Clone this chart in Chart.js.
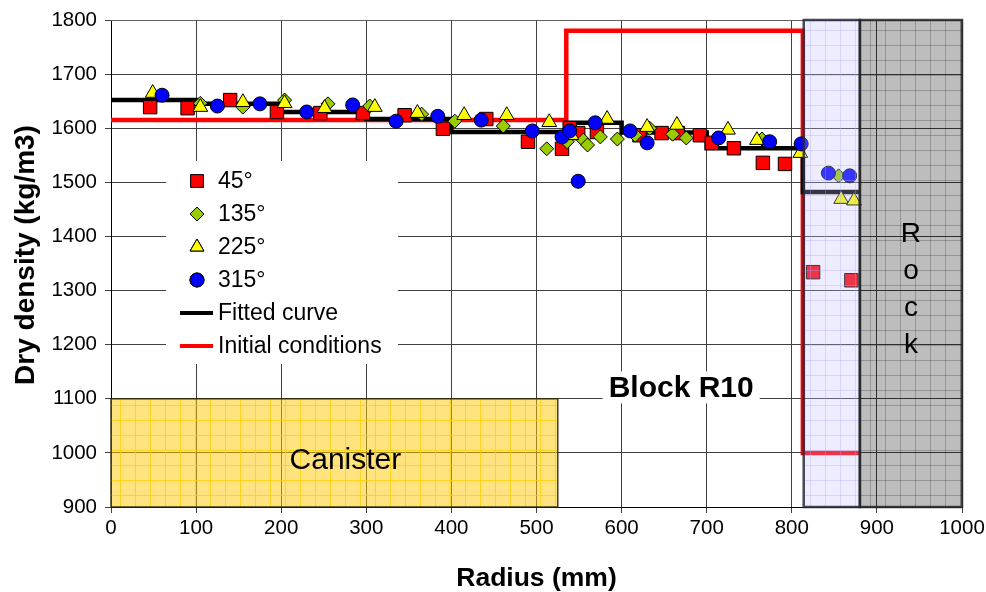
<!DOCTYPE html>
<html>
<head>
<meta charset="utf-8">
<script src="https://cdn.jsdelivr.net/npm/chart.js@4.4.0/dist/chart.umd.min.js"></script>
<style>
    html, body { margin: 0; padding: 0; background: #fff; }
    #wrap { width: 986px; height: 592px; }
</style>
</head>
<body>
<div id="wrap"><canvas id="densityChart" width="986" height="592"></canvas></div>
<script>
// Axis ticks
const xTicks = [0, 100, 200, 300, 400, 500, 600, 700, 800, 900, 1000];
const yTicks = [900, 1000, 1100, 1200, 1300, 1400, 1500, 1600, 1700, 1800];

// Measured dry density per sampling direction
const radius45 = [46, 90, 140, 195, 246, 296, 345, 390, 441, 490, 530, 539, 549, 571, 621, 647, 666, 692, 706, 732, 766, 792, 825, 870];
const density45 = [1639, 1637, 1652, 1630, 1628, 1628, 1624, 1599, 1617, 1575, 1562, 1600, 1591, 1593, 1587, 1591, 1591, 1587, 1573, 1563, 1536, 1534, 1334, 1319];

const radius135 = [105, 155, 204, 255, 304, 365, 404, 461, 512, 536, 555, 560, 575, 595, 616, 633, 660, 676, 765, 855];
const density135 = [1646, 1639, 1652, 1645, 1641, 1626, 1613, 1604, 1562, 1575, 1578, 1569, 1584, 1580, 1587, 1600, 1589, 1582, 1580, 1512];

const radius225 = [49, 105, 155, 204, 251, 310, 360, 415, 465, 515, 541, 583, 630, 665, 725, 759, 810, 858, 873];
const density225 = [1665, 1639, 1648, 1646, 1637, 1639, 1628, 1624, 1624, 1611, 1587, 1617, 1602, 1606, 1597, 1578, 1554, 1469, 1466];

const radius315 = [60, 125, 175, 230, 284, 335, 384, 435, 495, 530, 539, 549, 569, 610, 630, 714, 774, 811, 843, 868];
const density315 = [1661, 1641, 1645, 1630, 1643, 1613, 1622, 1615, 1595, 1584, 1595, 1502, 1610, 1595, 1573, 1582, 1575, 1571, 1517, 1512];

// Fitted curve (step profile)
const fittedRadius = [0, 100, 100, 200, 200, 300, 300, 400, 400, 535, 535, 600, 600, 700, 700, 813, 813, 880];
const fittedDensity = [1652, 1652, 1645, 1645, 1630, 1630, 1617, 1617, 1593, 1593, 1610, 1610, 1592, 1592, 1563, 1563, 1482, 1482];

// Initial conditions
const initRadius = [0, 535, 535, 813, 813, 880];
const initDensity = [1615, 1615, 1780, 1780, 1000, 1000];

// Zones (mm / kg/m3)
const canisterZone = [0, 525, 900, 1100];
const gapZone = [814, 880, 900, 1800];
const rockZone = [880, 1000, 900, 1800];

const FONT = '"Liberation Sans", Arial, sans-serif';

function toPoints(xs, ys) {
    return xs.map((x, i) => ({ x: x, y: ys[i] }));
}

function gridPattern(ctx, bg, line, step) {
    const c = document.createElement('canvas');
    c.width = step;
    c.height = step;
    const g = c.getContext('2d');
    g.fillStyle = bg;
    g.fillRect(0, 0, step, step);
    g.strokeStyle = line;
    g.lineWidth = 1;
    g.beginPath();
    g.moveTo(0.5, 0); g.lineTo(0.5, step);
    g.moveTo(0, 0.5); g.lineTo(step, 0.5);
    g.stroke();
    return ctx.createPattern(c, 'repeat');
}

function zoneRect(chart, z) {
    const xs = chart.scales.x, ys = chart.scales.y;
    const x0 = xs.getPixelForValue(z[0]), x1 = xs.getPixelForValue(z[1]);
    const y0 = ys.getPixelForValue(z[3]), y1 = ys.getPixelForValue(z[2]);
    return [x0, y0, x1 - x0, y1 - y0];
}

const markerStyles = [
    { label: '45°', style: 'rect', color: '#FF0000' },
    { label: '135°', style: 'rectRot', color: '#99CC00' },
    { label: '225°', style: 'triangle', color: '#FFFF00' },
    { label: '315°', style: 'circle', color: '#0000FF' }
];

// Legend box, y title and plot frame, drawn under the data
const backgroundPlugin = {
    id: 'backgroundDecor',
    beforeDatasetsDraw(chart) {
        const ctx = chart.ctx;
        const area = chart.chartArea;
        ctx.save();
        ctx.strokeStyle = '#606060';
        ctx.lineWidth = 1;
        ctx.beginPath();
        ctx.moveTo(area.left, area.top + 0.5);
        ctx.lineTo(area.right, area.top + 0.5);
        ctx.stroke();

        // y axis title
        ctx.save();
        ctx.translate(26, 255);
        ctx.rotate(-Math.PI / 2);
        ctx.font = 'bold 28px ' + FONT;
        ctx.fillStyle = '#000';
        ctx.textAlign = 'center';
        ctx.textBaseline = 'middle';
        ctx.fillText('Dry density (kg/m3)', 0, 0);
        ctx.restore();

        // legend
        ctx.fillStyle = '#fff';
        ctx.fillRect(166, 161, 232, 203);
        ctx.font = '23px ' + FONT;
        ctx.textBaseline = 'middle';
        ctx.textAlign = 'left';
        markerStyles.forEach((m, i) => {
            const y = 181 + i * 33;
            Chart.helpers.drawPoint(ctx, {
                pointStyle: m.style, radius: m.style === 'rect' ? 9 : (m.style === 'triangle' ? 8 : 7),
                rotation: 0, borderWidth: 1
            }, 197, y);
            ctx.fillStyle = m.color;
            ctx.strokeStyle = '#000';
            ctx.lineWidth = 1;
            ctx.fill();
            ctx.stroke();
            ctx.fillStyle = '#000';
            ctx.fillText(m.label, 218, y + 1);
        });
        [['Fitted curve', '#000'], ['Initial conditions', '#FF0000']].forEach((l, i) => {
            const y = 313 + i * 33;
            ctx.strokeStyle = l[1];
            ctx.lineWidth = 4;
            ctx.beginPath();
            ctx.moveTo(180, y);
            ctx.lineTo(213, y);
            ctx.stroke();
            ctx.fillStyle = '#000';
            ctx.fillText(l[0], 218, y + 1);
        });
        ctx.restore();
    }
};

// Canister, gap and rock zones drawn over the data
const zonesPlugin = {
    id: 'zones',
    afterDatasetsDraw(chart) {
        const ctx = chart.ctx;
        ctx.save();

        // canister
        let r = zoneRect(chart, canisterZone);
        ctx.fillStyle = 'rgba(255, 200, 0, 0.5)';
        ctx.fillRect(r[0], r[1], r[2], r[3]);
        ctx.fillStyle = gridPattern(ctx, 'rgba(0,0,0,0)', 'rgba(255, 205, 0, 0.75)', 15);
        ctx.fillRect(r[0], r[1], r[2], r[3]);
        ctx.strokeStyle = 'rgba(50, 40, 10, 0.9)';
        ctx.lineWidth = 1.5;
        ctx.strokeRect(r[0], r[1], r[2], r[3]);
        ctx.fillStyle = '#000';
        ctx.font = '30px ' + FONT;
        ctx.textAlign = 'center';
        ctx.textBaseline = 'middle';
        ctx.fillText('Canister', r[0] + r[2] / 2 + 11, r[1] + r[3] / 2 + 8);

        // gap zone
        r = zoneRect(chart, gapZone);
        ctx.fillStyle = 'rgba(190, 190, 255, 0.28)';
        ctx.fillRect(r[0], r[1], r[2], r[3]);
        ctx.fillStyle = gridPattern(ctx, 'rgba(0,0,0,0)', 'rgba(170, 170, 255, 0.35)', 15);
        ctx.fillRect(r[0], r[1], r[2], r[3]);
        ctx.strokeStyle = 'rgba(40, 40, 60, 0.85)';
        ctx.lineWidth = 2.5;
        ctx.strokeRect(r[0], r[1], r[2], r[3]);

        // rock
        r = zoneRect(chart, rockZone);
        ctx.fillStyle = 'rgba(0, 0, 0, 0.26)';
        ctx.fillRect(r[0], r[1], r[2], r[3]);
        ctx.fillStyle = gridPattern(ctx, 'rgba(0,0,0,0)', 'rgba(0, 0, 0, 0.22)', 15);
        ctx.fillRect(r[0], r[1], r[2], r[3]);
        ctx.strokeStyle = 'rgba(40, 40, 40, 0.85)';
        ctx.lineWidth = 2.5;
        ctx.strokeRect(r[0], r[1], r[2], r[3]);
        ctx.fillStyle = '#000';
        ctx.font = '28px ' + FONT;
        ctx.textAlign = 'center';
        ctx.textBaseline = 'alphabetic';
        ['R', 'o', 'c', 'k'].forEach((ch, i) => {
            ctx.fillText(ch, r[0] + r[2] / 2, r[1] + 222 + i * 37);
        });

        // block label
        const bx = chart.scales.x.getPixelForValue(670);
        const by = chart.scales.y.getPixelForValue(1121);
        ctx.font = 'bold 30px ' + FONT;
        const w = ctx.measureText('Block R10').width;
        ctx.fillStyle = '#fff';
        ctx.fillRect(bx - w / 2 - 6, by - 16, w + 12, 32);
        ctx.fillStyle = '#000';
        ctx.textAlign = 'center';
        ctx.textBaseline = 'middle';
        ctx.fillText('Block R10', bx, by + 1);

        ctx.restore();
    }
};

function markerSet(label, xs, ys, style, color, radius) {
    return {
        type: 'scatter',
        label: label,
        data: toPoints(xs, ys),
        pointStyle: style,
        pointRadius: radius,
        backgroundColor: color,
        borderColor: '#000',
        borderWidth: 1,
        order: 1
    };
}

const plainTick = v => String(v);

const ctx = document.getElementById('densityChart');
new Chart(ctx, {
    type: 'scatter',
    data: {
        datasets: [
            markerSet('315°', radius315, density315, 'circle', '#0000FF', 7),
            markerSet('225°', radius225, density225, 'triangle', '#FFFF00', 8.5),
            markerSet('135°', radius135, density135, 'rectRot', '#99CC00', 7),
            markerSet('45°', radius45, density45, 'rect', '#FF0000', 9.5),
            {
                type: 'line',
                label: 'Fitted curve',
                data: toPoints(fittedRadius, fittedDensity),
                borderColor: '#000',
                borderWidth: 4.5,
                pointRadius: 0,
                tension: 0,
                fill: false,
                order: 2
            },
            {
                type: 'line',
                label: 'Initial conditions',
                data: toPoints(initRadius, initDensity),
                borderColor: '#FF0000',
                borderWidth: 4.5,
                pointRadius: 0,
                tension: 0,
                fill: false,
                order: 3
            }
        ]
    },
    options: {
        responsive: false,
        animation: false,
        events: [],
        layout: { padding: 0 },
        plugins: {
            legend: { display: false },
            tooltip: { enabled: false }
        },
        scales: {
            x: {
                type: 'linear',
                min: 0,
                max: 1000,
                afterBuildTicks: scale => { scale.ticks = xTicks.map(v => ({ value: v })); },
                afterFit: scale => { scale.height = 85; scale.paddingLeft = 0; scale.paddingRight = 24; },
                ticks: { color: '#000', font: { family: FONT, size: 20.5 }, padding: 3, maxRotation: 0, callback: plainTick },
                grid: { color: '#404040', lineWidth: 1, tickLength: 6 },
                border: { color: '#000', width: 1 },
                title: {
                    display: true,
                    text: 'Radius (mm)',
                    color: '#000',
                    font: { family: FONT, size: 26.5, weight: 'bold', lineHeight: 1.0 },
                    padding: { top: 0, bottom: 0 }
                }
            },
            y: {
                type: 'linear',
                min: 900,
                max: 1800,
                afterBuildTicks: scale => { scale.ticks = yTicks.map(v => ({ value: v })); },
                afterFit: scale => { scale.width = 111; scale.paddingTop = 20; scale.paddingBottom = 0; },
                ticks: { color: '#000', font: { family: FONT, size: 20.5 }, padding: 8, callback: plainTick },
                grid: { color: '#404040', lineWidth: 1, tickLength: 6 },
                border: { color: '#000', width: 1 },
                title: { display: false }
            }
        }
    },
    plugins: [backgroundPlugin, zonesPlugin]
});
</script>
</body>
</html>
